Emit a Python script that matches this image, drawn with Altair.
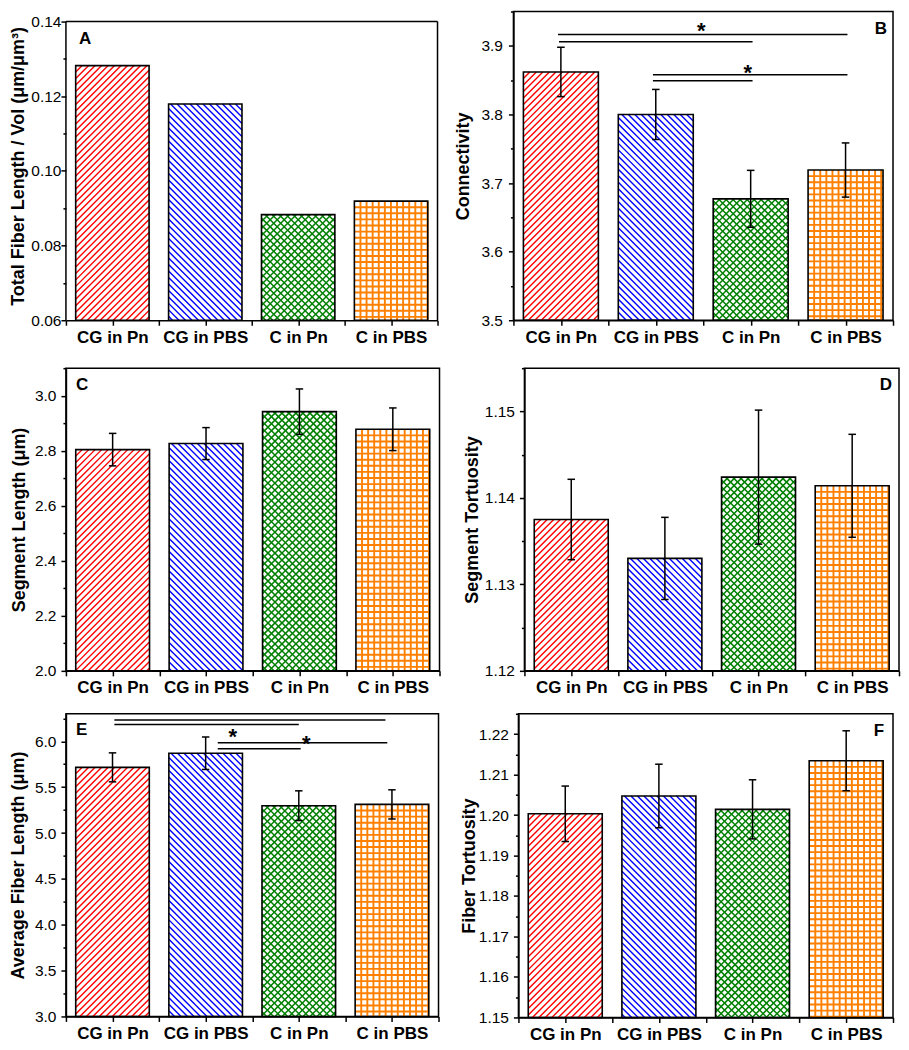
import math
import altair as alt
import pandas as pd

CATS = ["CG in Pn", "CG in PBS", "C in Pn", "C in PBS"]
COLORS = ["#ff0000", "#0000ff", "#008000", "#ff8000"]

A_VALS = [0.1282, 0.1179, 0.0883, 0.0919]
B_VALS = [3.862, 3.800, 3.677, 3.719]
B_ERR = [0.036, 0.0365, 0.0415, 0.0395]
C_VALS = [2.804, 2.826, 2.942, 2.878]
C_ERR = [0.059, 0.058, 0.0825, 0.0775]
D_VALS = [1.1375, 1.1330, 1.1424, 1.1414]
D_ERR = [0.00465, 0.00475, 0.00775, 0.00595]
E_VALS = [5.716, 5.870, 5.298, 5.312]
E_ERR = [0.158, 0.177, 0.162, 0.159]
F_VALS = [1.2003, 1.2047, 1.2014, 1.2134]
F_ERR = [0.00685, 0.00785, 0.0073, 0.0074]

# significance brackets (category index start/end, height) and stars
B_SIG_X1 = [-0.03, -0.02, 0.97, 0.97]
B_SIG_X2 = [3.02, 2.02, 3.02, 2.02]
B_SIG_Y = [3.9165, 3.906, 3.858, 3.849]
B_STAR_X = [1.48, 1.97]
B_STAR_Y = [3.9287, 3.868]
E_SIG_X1 = [0.02, 0.02, 1.13, 1.13]
E_SIG_X2 = [2.93, 2.0, 2.95, 2.02]
E_SIG_Y = [6.231, 6.184, 5.984, 5.918]
E_STAR_X = [1.29, 2.08]
E_STAR_Y = [6.096, 6.025]

FONT = "Liberation Sans"
HALF = 0.395  # half bar width in category units

# hatch style per category: list of (kind, spacing px, line width)
HATCH = [
    [("up", 6.5, 1.4)],
    [("down", 6.5, 1.4)],
    [("up", 7.0, 1.5), ("down", 7.0, 1.5)],
    [("h", 6.1, 1.9), ("v", 6.1, 1.9)],
]

PANELS = [
    # panel A: axis box ends at 0.14, drawn 10 px lower than panel B's box top
    dict(letter="A", vals=A_VALS, err=None, lo=0.06, hi=0.06 + 0.08 * 309 / 299,
         frame_top=0.14, minor=0.01, major=0.02,
         fmt=".2f", title="Total Fiber Length / Vol (μm/μm³)", right=False,
         w=372, h=309, lpad=0, tpad=3, lx=13, ly=19),
    dict(letter="B", vals=B_VALS, err=B_ERR, lo=3.5, hi=3.95, minor=0.05, major=0.1,
         fmt=".1f", title="Connectivity", right=True, w=380, h=309, lpad=6, tpad=8,
         lx=6, ly=9, sig=(B_SIG_X1, B_SIG_X2, B_SIG_Y, B_STAR_X, B_STAR_Y)),
    dict(letter="C", vals=C_VALS, err=C_ERR, lo=2.0, hi=3.1, minor=0.1, major=0.2,
         fmt=".1f", title="Segment Length (μm)", right=False, w=374, h=303, lpad=5,
         tpad=6, lx=10, ly=9),
    dict(letter="D", vals=D_VALS, err=D_ERR, lo=1.12, hi=1.155, minor=0.005, major=0.01,
         fmt=".2f", title="Segment Tortuosity", right=True, w=375, h=303, lpad=5,
         tpad=3, lx=7, ly=9),
    dict(letter="E", vals=E_VALS, err=E_ERR, lo=3.0, hi=6.3, minor=0.25, major=0.5,
         fmt=".1f", title="Average Fiber Length (μm)", right=False, w=373, h=303,
         lpad=5, tpad=7, lx=10, ly=8, sig=(E_SIG_X1, E_SIG_X2, E_SIG_Y, E_STAR_X, E_STAR_Y)),
    dict(letter="F", vals=F_VALS, err=F_ERR, lo=1.15, hi=1.225, minor=0.005, major=0.01,
         fmt=".2f", title="Fiber Tortuosity", right=True, w=375, h=304, lpad=5,
         tpad=0, lx=9, ly=9),
]

X_LABEL_EXPR = " : ".join(
    f"datum.value == {i} ? '{c}'" for i, c in enumerate(CATS)) + " : ''"


def hatch_layer(base, i, kind, P, sw, p, kx, ky, wpx, xs, xa_, ys, ya_):
    lo = p["lo"]
    c = base.transform_filter(f"datum.idx == {i}").transform_calculate(
        hpx=f"(datum.val - {lo}) * {ky}")
    if kind in ("up", "down"):
        c = c.transform_calculate(
            ks=f"sequence(1, floor(({wpx} + datum.hpx) / {P}) + 1)")
    elif kind == "h":
        c = c.transform_calculate(ks=f"sequence(1, ceil(datum.hpx / {P}))")
    else:
        c = c.transform_calculate(ks=f"sequence(1, ceil({wpx} / {P}))")
    c = c.transform_flatten(["ks"]).transform_calculate(s=f"datum.ks * {P}")
    if kind in ("up", "down"):
        c = c.transform_calculate(
            X0="max(0, datum.s - datum.hpx)",
            X1=f"min({wpx}, datum.s)")
        c = c.transform_calculate(Y0="datum.s - datum.X0", Y1="datum.s - datum.X1")
        if kind == "up":
            c = c.transform_calculate(
                xa=f"datum.xl + datum.X0 / {kx}", xb=f"datum.xl + datum.X1 / {kx}")
        else:
            c = c.transform_calculate(
                xa=f"datum.xr - datum.X0 / {kx}", xb=f"datum.xr - datum.X1 / {kx}")
        c = c.transform_calculate(
            ya=f"datum.val - datum.Y0 / {ky}", yb=f"datum.val - datum.Y1 / {ky}")
    elif kind == "h":
        c = c.transform_calculate(
            xa="datum.xl", xb="datum.xr",
            ya=f"datum.val - datum.s / {ky}", yb=f"datum.val - datum.s / {ky}")
    else:
        c = c.transform_calculate(
            xa=f"datum.xl + datum.s / {kx}", xb=f"datum.xl + datum.s / {kx}",
            ya="datum.val", yb="datum.base")
    return c.mark_rule(color=COLORS[i], strokeWidth=sw).encode(
        x=alt.X("xa:Q", scale=xs, axis=xa_), x2="xb:Q",
        y=alt.Y("ya:Q", scale=ys, axis=ya_), y2="yb:Q")


def make_panel(p):
    W, H, lo, hi = p["w"], p["h"], p["lo"], p["hi"]
    top_tick = p.get("frame_top", hi)
    df = pd.DataFrame({"cat": CATS, "idx": list(range(4)), "val": p["vals"]})
    if p["err"] is not None:
        df["err"] = p["err"]
    nt = int(math.floor((top_tick - lo) / p["minor"] + 1e-6))
    yvals = [round(lo + k * p["minor"], 6) for k in range(nt + 1)]
    major_test = (f"abs(datum.value/{p['major']} - round(datum.value/{p['major']})) < 0.001")
    xscale = alt.Scale(domain=[-0.5, 3.5], nice=False, zero=False)
    yscale = alt.Scale(domain=[lo, hi], nice=False, zero=False)
    xaxis = alt.Axis(values=[k * 0.5 - 0.5 for k in range(9)], labelExpr=X_LABEL_EXPR,
                     title=None, grid=False, tickSize=5, labelPadding=4,
                     labelFontSize=17, labelFontWeight="bold", labelFlush=False,
                     labelOverlap=False)
    yaxis = alt.Axis(values=yvals, format=p["fmt"],
                     labelExpr=f"{major_test} ? datum.label : ''",
                     labelFontSize={"condition": {"test": major_test, "value": 15.5},
                                    "value": 0},
                     tickSize={"condition": {"test": major_test, "value": 5}, "value": 3},
                     labelPadding=p["lpad"], titlePadding=p["tpad"], title=p["title"],
                     grid=False, labelOverlap=False, labelFlush=False,
                     domain=("frame_top" not in p))
    X = alt.X("xl:Q", scale=xscale, axis=xaxis)
    Y = alt.Y("val:Q", scale=yscale, axis=yaxis)
    base = alt.Chart(df).transform_calculate(
        xl=f"datum.idx - {HALF}", xr=f"datum.idx + {HALF}", base=str(lo))
    kx = W / 4.0
    ky = H / (hi - lo)
    wpx = 2 * HALF * kx
    layers = []
    for i in range(4):
        for kind, P, sw in HATCH[i]:
            layers.append(hatch_layer(base, i, kind, P, sw, p, kx, ky, wpx,
                                      xscale, xaxis, yscale, yaxis))
    layers.append(base.mark_bar(fill="transparent", stroke="black", strokeWidth=1.6)
                  .encode(x=X, x2="xr:Q", y=Y, y2="base:Q"))
    if p["err"] is not None:
        eb = base.transform_calculate(
            elo="datum.val - datum.err", ehi="datum.val + datum.err",
            cl="datum.idx - 0.04", cr="datum.idx + 0.04")
        layers.append(eb.mark_rule(color="black", strokeWidth=1.5).encode(
            x=alt.X("idx:Q", scale=xscale, axis=xaxis),
            y=alt.Y("elo:Q", scale=yscale, axis=yaxis), y2="ehi:Q"))
        for fld in ("elo", "ehi"):
            layers.append(eb.mark_rule(color="black", strokeWidth=1.5).encode(
                x=alt.X("cl:Q", scale=xscale, axis=xaxis), x2="cr:Q",
                y=alt.Y(f"{fld}:Q", scale=yscale, axis=yaxis)))
    if "sig" in p:
        x1, x2, sy, stx, sty = p["sig"]
        sdf = pd.DataFrame({"x1": x1, "x2": x2, "y": sy})
        layers.append(alt.Chart(sdf).mark_rule(color="black", strokeWidth=1.5).encode(
            x=alt.X("x1:Q", scale=xscale, axis=xaxis), x2="x2:Q",
            y=alt.Y("y:Q", scale=yscale, axis=yaxis)))
        stdf = pd.DataFrame({"x": stx, "y": sty})
        layers.append(alt.Chart(stdf).mark_text(
            text="*", fontSize=22, fontWeight="bold", font=FONT, baseline="middle",
            dy=5, color="black").encode(
            x=alt.X("x:Q", scale=xscale, axis=xaxis),
            y=alt.Y("y:Q", scale=yscale, axis=yaxis)))
    if "frame_top" in p:
        # axis box of panel A: left, right and top edges at the axis limits
        fdf = pd.DataFrame({"xa": [-0.5, 3.5, -0.5], "xb": [-0.5, 3.5, 3.5],
                            "ya": [lo, lo, top_tick], "yb": [top_tick, top_tick, top_tick]})
        layers.append(alt.Chart(fdf).mark_rule(color="black", strokeWidth=1.5).encode(
            x=alt.X("xa:Q", scale=xscale, axis=xaxis), x2="xb:Q",
            y=alt.Y("ya:Q", scale=yscale, axis=yaxis), y2="yb:Q"))
    ldf = pd.DataFrame({"letter": [p["letter"]]})
    if p["right"]:
        lt = alt.Chart(ldf).mark_text(align="right", baseline="top", fontSize=17,
                                      fontWeight="bold", font=FONT, color="black").encode(
            x=alt.value(W - p["lx"]), y=alt.value(p["ly"]), text="letter:N")
    else:
        lt = alt.Chart(ldf).mark_text(align="left", baseline="top", fontSize=17,
                                      fontWeight="bold", font=FONT, color="black").encode(
            x=alt.value(p["lx"]), y=alt.value(p["ly"]), text="letter:N")
    layers.append(lt)
    props = dict(width=W, height=H)
    if "frame_top" in p:
        props["view"] = alt.ViewBackground(strokeOpacity=0)
    return alt.layer(*layers).properties(**props)


panels = [make_panel(p) for p in PANELS]
row1 = alt.hconcat(panels[0], panels[1], spacing=15)
row2 = alt.hconcat(panels[2], panels[3], spacing=21)
row3 = alt.hconcat(panels[4], panels[5], spacing=19)
top = alt.vconcat(row1, row2, spacing=20)
chart = alt.vconcat(top, row3, spacing=15).properties(
    padding={"left": 0, "top": 1, "right": 0, "bottom": 0}
).configure(font=FONT).configure_view(
    stroke="black", strokeWidth=1.5
).configure_axis(
    domainColor="black", domainWidth=1.5, tickColor="black", tickWidth=1.5,
    labelFont=FONT, labelFontSize=15.5, labelColor="black",
    titleFont=FONT, titleFontSize=18, titleFontWeight="bold", titleColor="black"
)

chart.save("out.html", embed_options={"renderer": "svg", "actions": False})
